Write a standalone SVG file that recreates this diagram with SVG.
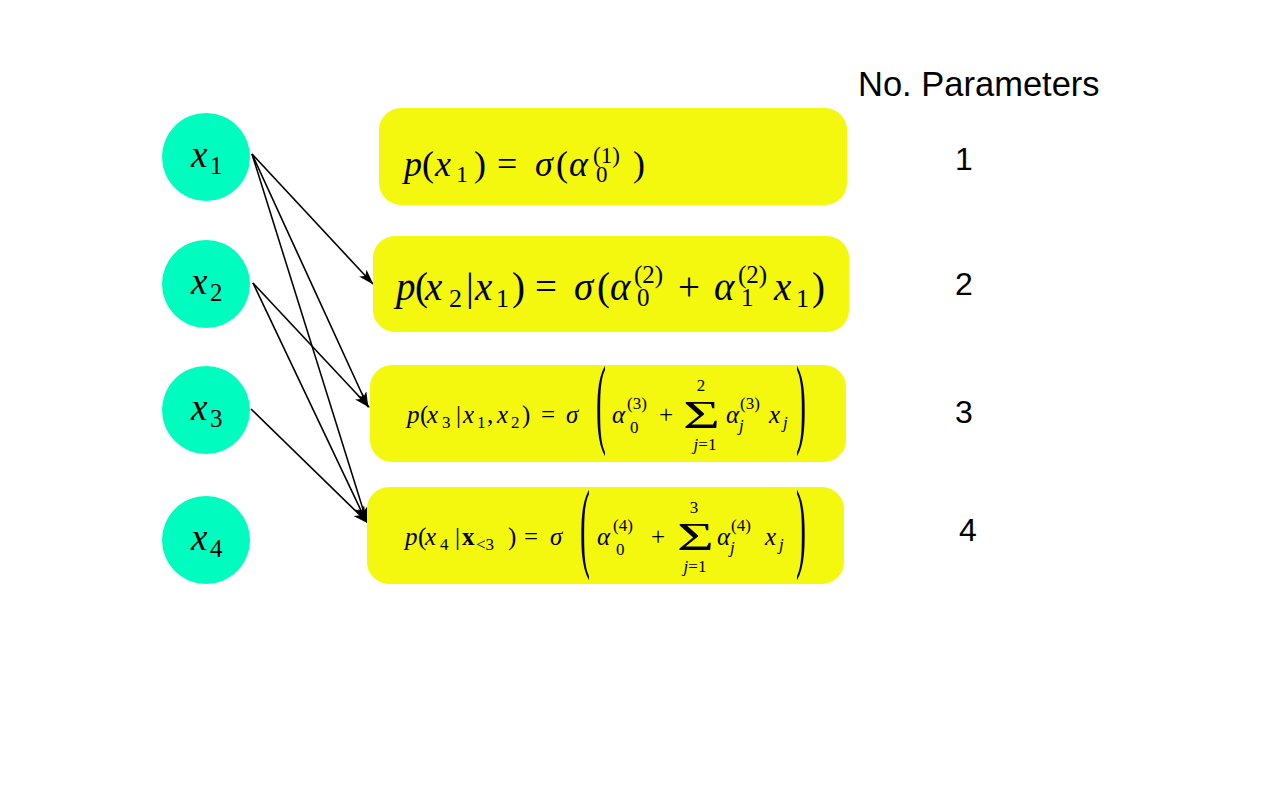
<svg xmlns="http://www.w3.org/2000/svg" width="1280" height="800" viewBox="0 0 1280 800">
<style>
.node circle { fill: #00FDBF; }
.box rect { fill: #F4F80E; }
.m { font-family: "Liberation Serif", "DejaVu Serif", serif; fill: #000; }
.i { font-style: italic; }
.b { font-weight: bold; }
.lab { font-family: "Liberation Sans", Arial, sans-serif; fill: #000; }
.edge { stroke: #000; stroke-width: 1.6; fill: none; marker-end: url(#ah); }
</style>
<defs>
<marker id="ah" viewBox="0 0 16 10" refX="15" refY="5" markerWidth="17" markerHeight="10" markerUnits="userSpaceOnUse" orient="auto">
<path d="M0,0 L16,5 L0,10 L4,5 Z" fill="#000"/>
</marker>
</defs>
<rect width="1280" height="800" fill="#fff"/>

<g id="x1" class="node"><circle cx="206" cy="157" r="44"/>
<text class="m" font-size="37" y="167"><tspan class="i" x="191">x</tspan><tspan font-size="25" x="210" y="174">1</tspan></text></g>
<g id="x2" class="node"><circle cx="206" cy="284" r="44"/>
<text class="m" font-size="37" y="294"><tspan class="i" x="191">x</tspan><tspan font-size="25" x="210" y="301">2</tspan></text></g>
<g id="x3" class="node"><circle cx="206" cy="410" r="44"/>
<text class="m" font-size="37" y="420"><tspan class="i" x="191">x</tspan><tspan font-size="25" x="210" y="427">3</tspan></text></g>
<g id="x4" class="node"><circle cx="206" cy="540" r="44"/>
<text class="m" font-size="37" y="550"><tspan class="i" x="191">x</tspan><tspan font-size="25" x="210" y="557">4</tspan></text></g>

<g id="connectors">
<line class="edge" x1="252" y1="154" x2="373" y2="284"/>
<line class="edge" x1="252" y1="154" x2="368" y2="407"/>
<line class="edge" x1="252" y1="154" x2="367" y2="522"/>
<line class="edge" x1="253" y1="283" x2="369" y2="407"/>
<line class="edge" x1="253" y1="283" x2="366" y2="521"/>
<line class="edge" x1="251" y1="409" x2="368" y2="523"/>
</g>

<g id="box1" class="box"><rect x="379" y="108" width="468" height="97" rx="22"/>
<text class="m" font-size="36" y="176">
<tspan class="i" x="404">p</tspan><tspan x="422">(</tspan><tspan class="i" x="435">x</tspan><tspan font-size="24" x="456" y="182">1</tspan><tspan x="474" y="176">)</tspan><tspan x="497">=</tspan><tspan class="i" x="535">σ</tspan><tspan x="556">(</tspan><tspan class="i" x="569">α</tspan><tspan font-size="23" x="593" y="163">(1)</tspan><tspan font-size="23" x="596" y="182">0</tspan><tspan x="633" y="176">)</tspan>
</text></g>

<g id="box2" class="box"><rect x="373" y="236" width="476" height="96" rx="22"/>
<text class="m" font-size="39" y="300">
<tspan class="i" x="396">p</tspan><tspan x="415">(</tspan><tspan class="i" x="425">x</tspan><tspan font-size="26" x="449" y="307">2</tspan><tspan x="466" y="300">|</tspan><tspan class="i" x="475">x</tspan><tspan font-size="26" x="496" y="307">1</tspan><tspan x="512" y="300">)</tspan><tspan x="535">=</tspan><tspan class="i" x="574">σ</tspan><tspan x="597">(</tspan><tspan class="i" x="610">α</tspan><tspan font-size="25" x="634" y="283">(2)</tspan><tspan font-size="25" x="637" y="306">0</tspan><tspan x="678" y="300">+</tspan><tspan class="i" x="714">α</tspan><tspan font-size="25" x="738" y="283">(2)</tspan><tspan font-size="25" x="741" y="306">1</tspan><tspan class="i" x="774" y="300">x</tspan><tspan font-size="26" x="796" y="307">1</tspan><tspan x="812" y="300">)</tspan>
</text></g>

<g id="box3" class="box"><rect x="370" y="365" width="476" height="97" rx="22"/>
<text class="m" font-size="25" y="423">
<tspan class="i" x="407">p</tspan><tspan x="420">(</tspan><tspan class="i" x="427">x</tspan><tspan font-size="17" x="442" y="428">3</tspan><tspan x="456" y="423">|</tspan><tspan class="i" x="463">x</tspan><tspan font-size="17" x="477" y="428">1</tspan><tspan x="487" y="423">,</tspan><tspan class="i" x="497">x</tspan><tspan font-size="17" x="511" y="428">2</tspan><tspan x="522" y="423">)</tspan><tspan x="541">=</tspan><tspan class="i" x="566">σ</tspan><tspan class="i" x="612">α</tspan><tspan font-size="17" x="627" y="409">(3)</tspan><tspan font-size="17" x="630" y="433">0</tspan><tspan x="659" y="423">+</tspan><tspan class="i" x="726">α</tspan><tspan font-size="17" x="740" y="409">(3)</tspan><tspan font-size="17" class="i" x="739" y="431">j</tspan><tspan class="i" x="769" y="423">x</tspan><tspan font-size="17" class="i" x="783" y="428">j</tspan>
</text>
<text class="m" font-size="40" x="683" y="428" textLength="37" lengthAdjust="spacingAndGlyphs">Σ</text>
<text class="m" font-size="17" x="701" y="391" text-anchor="middle">2</text>
<text class="m" font-size="17" x="705" y="450" text-anchor="middle"><tspan class="i">j</tspan>=1</text>
<text class="m" font-size="30" transform="translate(596,435) scale(1,3.3)">(</text>
<text class="m" font-size="30" transform="translate(796,435) scale(1,3.3)">)</text>
</g>

<g id="box4" class="box"><rect x="367" y="487" width="477" height="97" rx="22"/>
<text class="m" font-size="25" y="545">
<tspan class="i" x="405">p</tspan><tspan x="418">(</tspan><tspan class="i" x="425">x</tspan><tspan font-size="17" x="440" y="550">4</tspan><tspan x="455" y="545">|</tspan><tspan class="b" x="462">x</tspan><tspan font-size="17" x="476" y="550">&lt;3</tspan><tspan x="508" y="545">)</tspan><tspan x="524">=</tspan><tspan class="i" x="550">σ</tspan><tspan class="i" x="597">α</tspan><tspan font-size="17" x="613" y="531">(4)</tspan><tspan font-size="17" x="616" y="555">0</tspan><tspan x="651" y="545">+</tspan><tspan class="i" x="717">α</tspan><tspan font-size="17" x="731" y="531">(4)</tspan><tspan font-size="17" class="i" x="730" y="553">j</tspan><tspan class="i" x="765" y="545">x</tspan><tspan font-size="17" class="i" x="779" y="550">j</tspan>
</text>
<text class="m" font-size="40" x="677" y="550" textLength="37" lengthAdjust="spacingAndGlyphs">Σ</text>
<text class="m" font-size="17" x="694" y="513" text-anchor="middle">3</text>
<text class="m" font-size="17" x="695" y="572" text-anchor="middle"><tspan class="i">j</tspan>=1</text>
<text class="m" font-size="30" transform="translate(580,559) scale(1,3.3)">(</text>
<text class="m" font-size="30" transform="translate(796,559) scale(1,3.3)">)</text>
</g>

<g id="params">
<text class="lab" font-size="34.5" x="858" y="96">No. Parameters</text>
<text class="lab" font-size="32" x="964" y="170" text-anchor="middle">1</text>
<text class="lab" font-size="32" x="964" y="295" text-anchor="middle">2</text>
<text class="lab" font-size="32" x="964" y="423" text-anchor="middle">3</text>
<text class="lab" font-size="32" x="968" y="541" text-anchor="middle">4</text>
</g>
</svg>
